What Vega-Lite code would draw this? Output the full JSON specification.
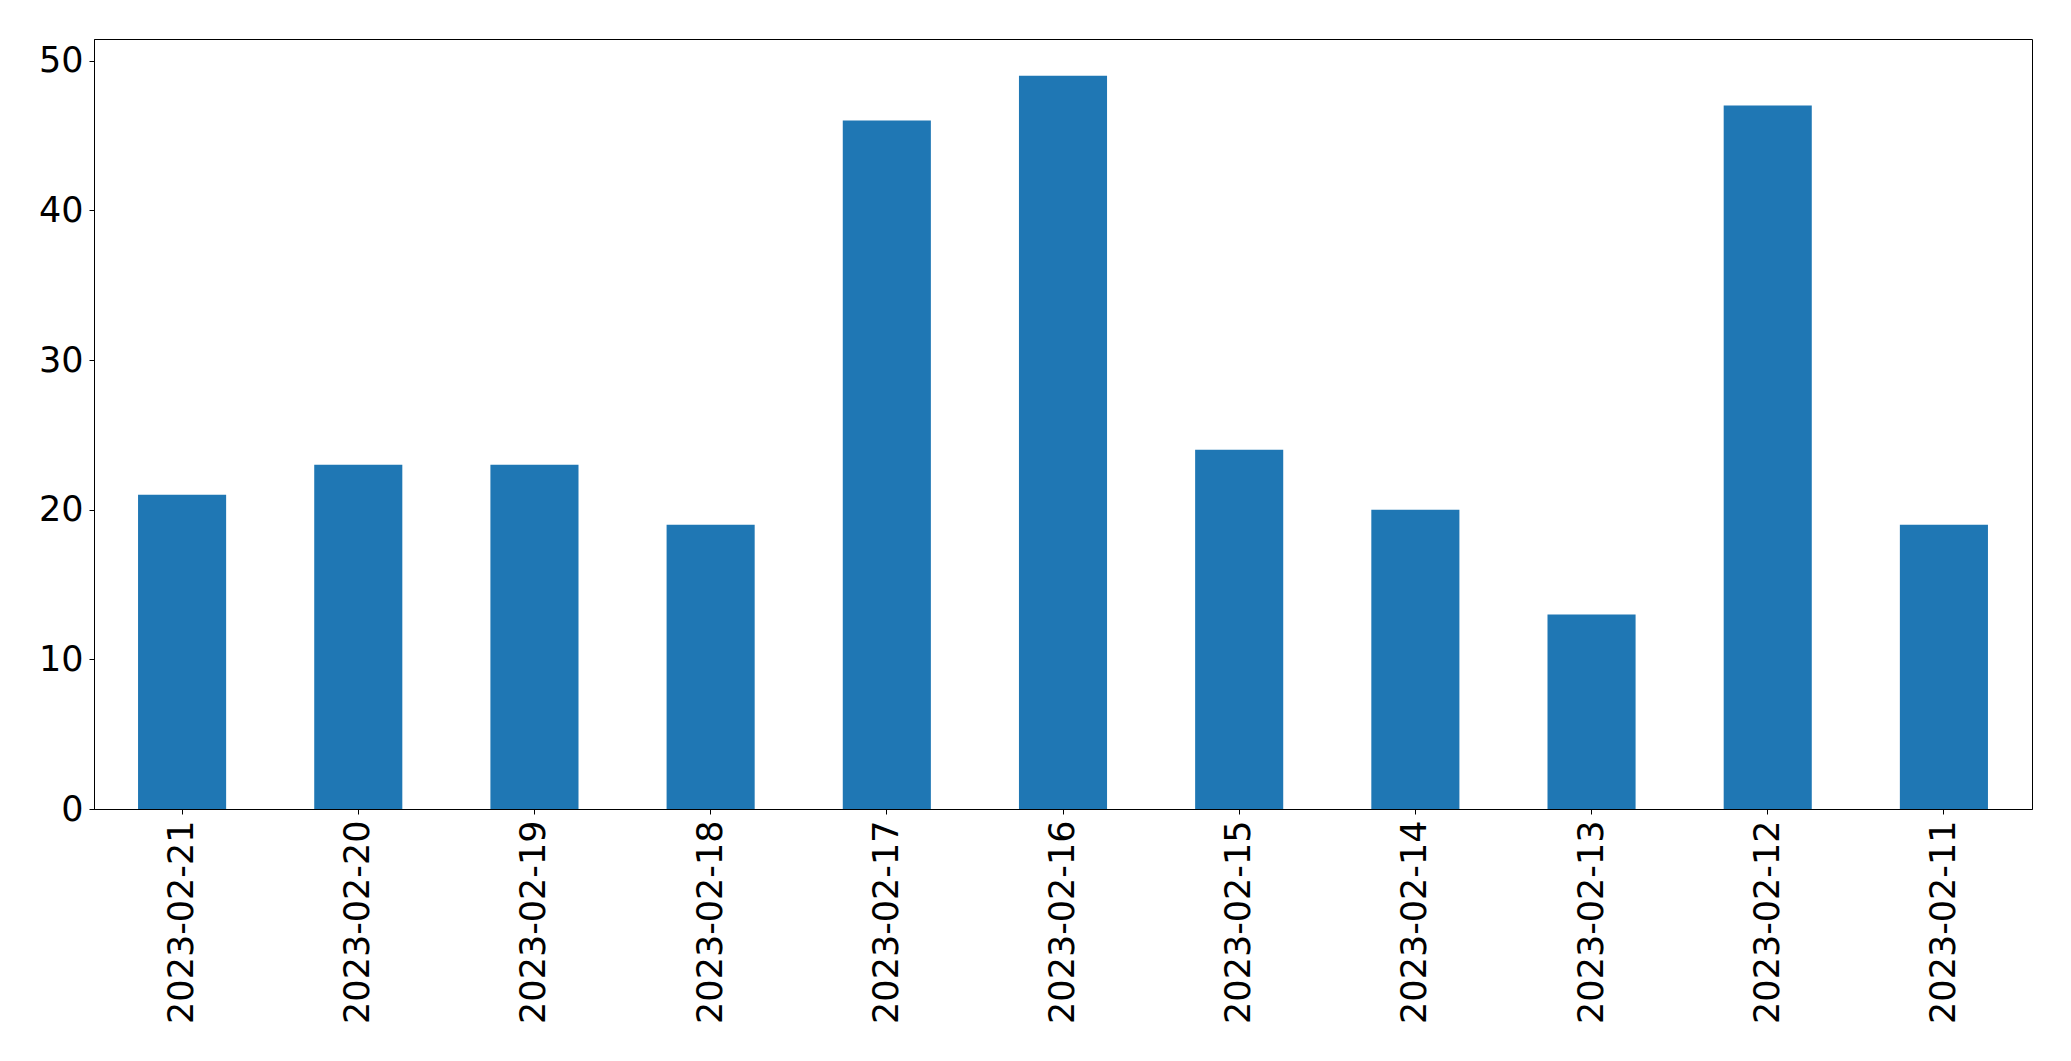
{
  "$schema": "https://vega.github.io/schema/vega-lite/v6.json",
  "autosize": "none",
  "width": 1938,
  "height": 770,
  "padding": {"left": 94, "top": 39, "right": 39, "bottom": 252},
  "background": "white",
  "data": {
    "values": [
      {"date": "2023-02-21", "count": 21},
      {"date": "2023-02-20", "count": 23},
      {"date": "2023-02-19", "count": 23},
      {"date": "2023-02-18", "count": 19},
      {"date": "2023-02-17", "count": 46},
      {"date": "2023-02-16", "count": 49},
      {"date": "2023-02-15", "count": 24},
      {"date": "2023-02-14", "count": 20},
      {"date": "2023-02-13", "count": 13},
      {"date": "2023-02-12", "count": 47},
      {"date": "2023-02-11", "count": 19}
    ]
  },
  "mark": {"type": "bar", "color": "#1f77b4"},
  "encoding": {
    "x": {
      "field": "date",
      "type": "nominal",
      "sort": null,
      "scale": {"paddingInner": 0.5, "paddingOuter": 0.25},
      "axis": {
        "title": null,
        "labelAngle": -90,
        "labelFont": "DejaVu Sans",
        "labelFontSize": 35,
        "labelColor": "black",
        "labelPadding": 6,
        "labelLimit": 0,
        "tickColor": "black",
        "tickSize": 5,
        "domainColor": "black",
        "grid": false
      }
    },
    "y": {
      "field": "count",
      "type": "quantitative",
      "scale": {"domain": [0, 51.45], "nice": false, "zero": true},
      "axis": {
        "title": null,
        "values": [0, 10, 20, 30, 40, 50],
        "labelFont": "DejaVu Sans",
        "labelFontSize": 35,
        "labelColor": "black",
        "labelPadding": 6,
        "tickColor": "black",
        "tickSize": 5,
        "domainColor": "black",
        "grid": false
      }
    }
  },
  "config": {
    "view": {"stroke": "black", "strokeWidth": 1}
  }
}
